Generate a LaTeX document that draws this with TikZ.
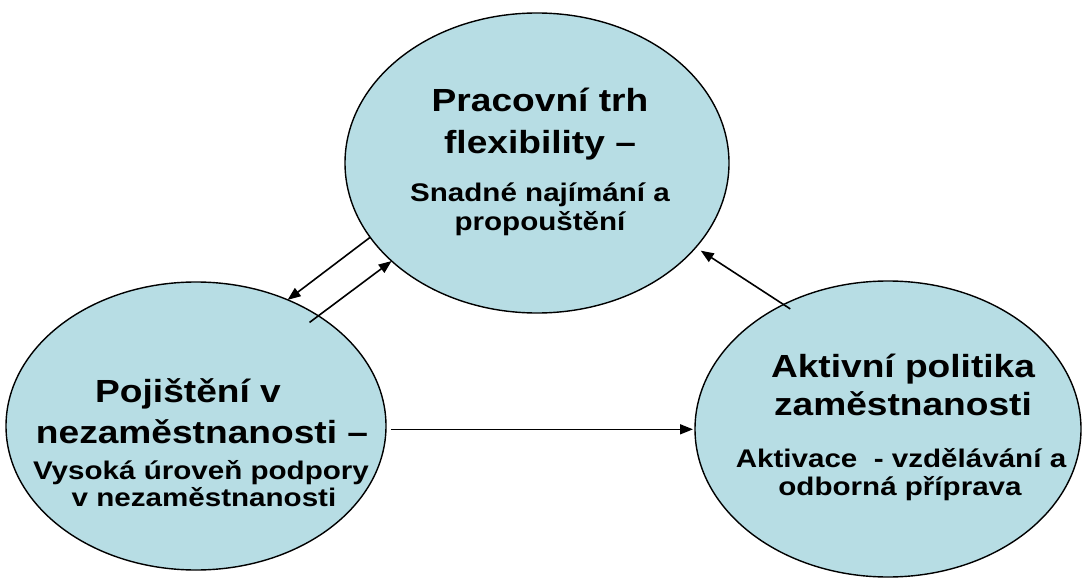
\documentclass[tikz,border=0pt]{standalone}
\usepackage{fontspec}
\setmainfont{Liberation Sans}[FakeStretch=1.16]
\usetikzlibrary{arrows.meta,shapes.geometric}
\definecolor{bubblefill}{RGB}{183,221,228}
\begin{document}
\begin{tikzpicture}[x=1pt,y=1pt,
  bubble/.style={ellipse, draw=black, line width=1.4pt, fill=bubblefill, inner sep=0pt, outer sep=0pt},
  big/.style={anchor=base, inner sep=0pt, font=\bfseries\fontsize{32}{38}\selectfont},
  small/.style={anchor=base, inner sep=0pt, font=\bfseries\fontsize{25.5}{30}\selectfont},
  link/.style={line width=1.6pt, -{Triangle[length=13pt,width=10pt]}}]
\useasboundingbox (0,0) rectangle (1082,-578);
\fill[white] (0,0) rectangle (1082,-578);
% ellipses
\node[bubble, minimum width=384pt, minimum height=300pt] (flex) at (537,-163) {};
\node[bubble, minimum width=380pt, minimum height=288pt] (ins) at (196,-426) {};
\node[bubble, minimum width=386pt, minimum height=296pt] (alm) at (888,-429) {};
% texts
\node[big] (flex1) at (540,-111) {Pracovní trh};
\node[big] (flex2) at (540,-153) {flexibility –};
\node[small] (flex3) at (540,-201) {Snadné najímání a};
\node[small] (flex4) at (540,-230) {propouštění};
\node[big] (ins1) at (188,-402) {Pojištění v};
\node[big] (ins2) at (202,-443) {nezaměstnanosti –};
\node[small] (ins3) at (201,-479) {Vysoká úroveň podpory};
\node[small] (ins4) at (204,-506) {v nezaměstnanosti};
\node[big] (alm1) at (903,-377) {Aktivní politika};
\node[big] (alm2) at (903,-415) {zaměstnanosti};
\node[small] (alm3) at (901,-467) {Aktivace~ - vzdělávání a};
\node[small] (alm4) at (900,-495) {odborná příprava};
% connectors
\draw[link] (flex.204.5) -- (ins.54.4);
\draw[link, shorten <=-11pt] (ins.42.6) -- (flex.214.2);
\draw[link, shorten <=-8pt, shorten >=6pt] (alm.130.8) -- (flex.332.2);
\draw[link, shorten <=5pt, shorten >=2pt] (ins.-1.5) -- (ins.-1.5 -| alm.west);
\end{tikzpicture}
\end{document}
